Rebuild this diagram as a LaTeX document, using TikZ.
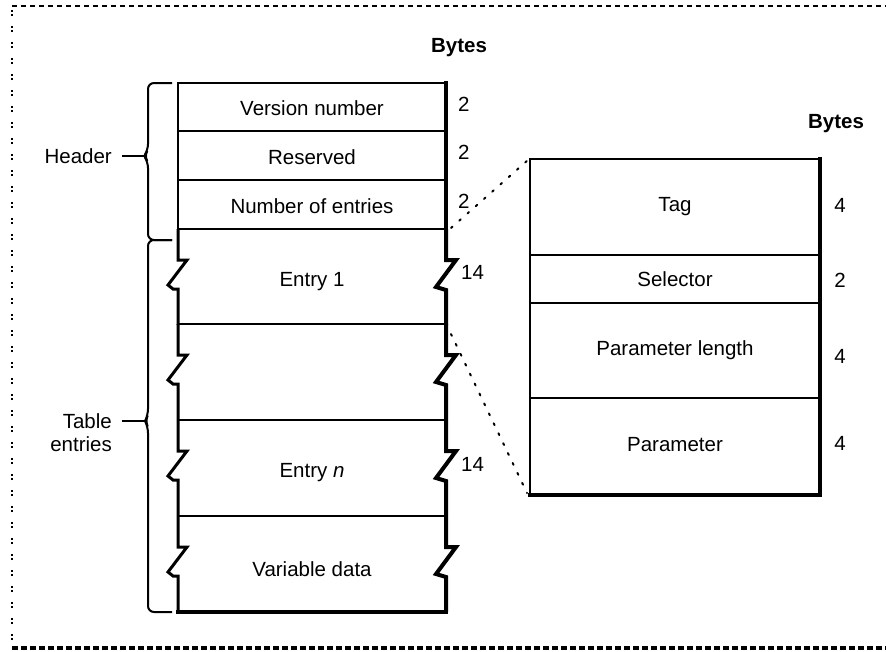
\documentclass[tikz,border=0pt]{standalone}
\usepackage{fontspec}
\setmainfont{Liberation Sans}
\begin{document}
\begin{tikzpicture}[x=1pt,y=-1pt,
  font=\fontsize{20.5}{24}\selectfont,
  thinln/.style={line width=2pt},
  thickln/.style={line width=4pt},
  zigln/.style={line width=3pt, line join=miter},
  dotln/.style={line width=2pt, dash pattern=on 2pt off 9pt, line cap=round},
  lbl/.style={inner sep=0pt},
  num/.style={inner sep=0pt, anchor=west}]
\useasboundingbox (0,0) rectangle (886,651);

% frame
\draw[line width=2pt, dash pattern=on 5pt off 4pt] (12,6) -- (886,6);
\draw[line width=2pt, dash pattern=on 2pt off 2pt on 2pt off 10pt] (12,10) -- (12,642);
\draw[line width=4pt, dash pattern=on 6pt off 3pt] (12,648) -- (886,648);

% left table: header part
\draw[thinln] (178,83) -- (446,83);
\foreach \y in {131,180,229,324,420,516} \draw[thinln] (178,\y) -- (446,\y);
\draw[thinln] (178,82) -- (178,229);
\draw[thickln] (446,81) -- (446,229);
% left table: entry sections with break marks
\foreach \s in {229,324,420,516} {
  \draw[zigln] (178,\s) -- (178,\s+31) -- (187,\s+31) -- (168,\s+56) -- (173,\s+60) -- (178,\s+60) -- (178,\s+96);
  \draw[thickln] (446,\s) -- (446,\s+31) -- (456,\s+31) -- (436,\s+58) -- (446,\s+61) -- (446,\s+96);
}
\draw[thickln] (176,612) -- (448,612);

\node[lbl] (bytesL) at (459,48) {\bfseries Bytes};
\node[lbl] (ver) at (312,108) {Version number};
\node[lbl] (res) at (312,157) {Reserved};
\node[lbl] (noe) at (312,206) {Number of entries};
\node[lbl] (e1) at (312,282) {Entry 1};
\node[lbl] (en) at (312,473) {Entry \textit{n}};
\node[lbl] (vd) at (312,569) {Variable data};

\node[num] (b1) at (458,104) {2};
\node[num] (b2) at (458,152) {2};
\node[num] (b3) at (458,201) {2};
\node[num] (b4) at (461,272) {14};
\node[num] (b5) at (461,464) {14};

% braces
\coordinate (hb) at (146,156);
\coordinate (tb) at (146,421);
\draw[thinln, rounded corners=6pt] (172,83) -| (148,150) -- (144,156) -- (148,162) |- (172,240);
\draw[thinln, rounded corners=6pt] (172,240) -| (148,415) -- (145,421) -- (148,427) |- (172,612);
\node[lbl, anchor=east] (header) at (112,156) {Header};
\draw[thinln] (header.east) ++(10,0) -- (hb);
\node[lbl, anchor=east] (tabl) at (112,421) {Table};
\node[lbl, anchor=east] (entr) at (112,444) {entries};
\draw[thinln] (tabl.east) ++(10,0) -- (tb);

% right table
\draw[thinln] (530,495) -- (530,159) -- (820,159);
\foreach \y in {255,303,398} \draw[thinln] (530,\y) -- (820,\y);
\draw[thickln] (820,157) -- (820,495) -- (528,495);

\node[lbl] (bytesR) at (836,124) {\bfseries Bytes};
\node[lbl] (tag) at (675,207) {Tag};
\node[lbl] (sel) at (675,279) {Selector};
\node[lbl] (pl) at (675,350) {Parameter length};
\node[lbl] (par) at (675,445) {Parameter};
\node[lbl] (r1) at (840,205) {4};
\node[lbl] (r2) at (840,280) {2};
\node[lbl] (r3) at (840,356) {4};
\node[lbl] (r4) at (840,443) {4};

% dotted connectors
\coordinate (da) at (451,228);
\coordinate (db) at (451,334);
\coordinate (rtnw) at (528,160);
\coordinate (rtsw) at (527,493);
\draw[dotln] (da) -- (rtnw);
\draw[dotln] (db) -- (rtsw);
\end{tikzpicture}
\end{document}
